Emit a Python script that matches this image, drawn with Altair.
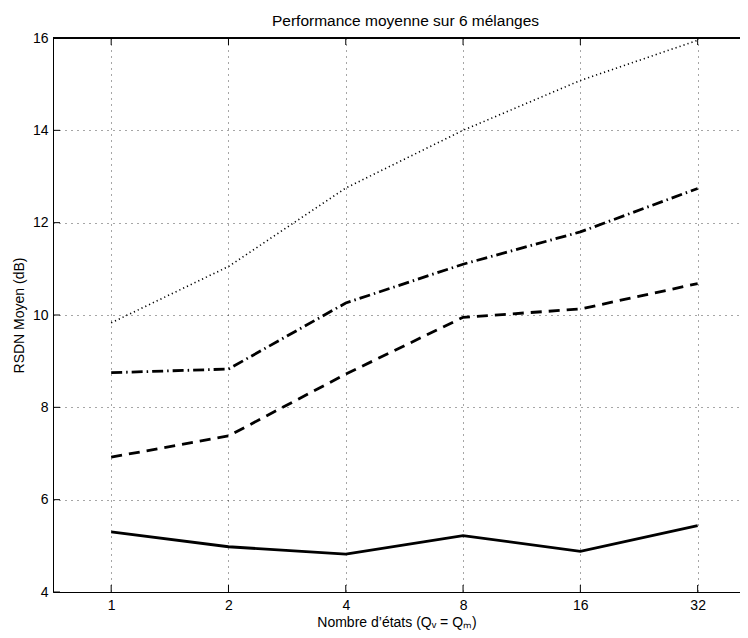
import altair as alt
import pandas as pd

# ---- data ----
states = [1, 2, 4, 8, 16, 32]
y_ticks = [4, 6, 8, 10, 12, 14, 16]
dotted_vals = [9.83, 11.05, 12.75, 14.0, 15.08, 15.95]
dashdot_vals = [8.75, 8.83, 10.26, 11.1, 11.8, 12.74]
dashed_vals = [6.92, 7.38, 8.72, 9.95, 10.13, 10.68]
solid_vals = [5.3, 4.98, 4.82, 5.22, 4.88, 5.44]

W, H = 687, 554
XDOM = [2 ** -0.496, 41.1]
YDOM = [4, 16]
FONT = "Liberation Sans"

xs = alt.Scale(type="log", base=2, domain=XDOM, nice=False)
ys = alt.Scale(domain=YDOM, nice=False, zero=False)

# long table for the four curves
style_names = ["dotted", "dashdot", "dashed", "solid"]
all_vals = [dotted_vals, dashdot_vals, dashed_vals, solid_vals]
rows = []
for name, vals in zip(style_names, all_vals):
    for n, v in zip(states, vals):
        rows.append({"n": n, "v": v, "s": name})
df_lines = pd.DataFrame(rows)

x_axis = alt.Axis(
    values=states, format="d", title="Nombre d\u2019\u00e9tats (Q\u1d65 = Q\u2098)",
    grid=True, gridDash=[1, 5], gridColor="#000", gridOpacity=0.7, gridWidth=1,
    ticks=False, tickSize=0, labelPadding=6,
    titleBaseline="alphabetic", titleY=34,
)
y_axis = alt.Axis(
    values=y_ticks, format="d", title="RSDN Moyen (dB)",
    grid=True, gridDash=[1, 5], gridColor="#000", gridOpacity=0.7, gridWidth=1,
    ticks=False, tickSize=0, labelPadding=5, titlePadding=6,
)

X = alt.X("n:Q", scale=xs, axis=x_axis)
Y = alt.Y("v:Q", scale=ys, axis=y_axis)

# invisible points carrying the axes
axes_layer = alt.Chart(df_lines).mark_point(opacity=0).encode(x=X, y=Y)

df_states = pd.DataFrame({"n": states})
df_y = pd.DataFrame({"v": y_ticks})

bottom_ticks = alt.Chart(df_states).mark_rule(color="black", strokeWidth=1).encode(
    x=alt.X("n:Q"), y=alt.value(H), y2=alt.value(H - 7),
)
top_ticks = alt.Chart(df_states).mark_rule(color="black", strokeWidth=1).encode(
    x=alt.X("n:Q"), y=alt.value(0), y2=alt.value(7),
)
left_ticks = alt.Chart(df_y).mark_rule(color="black", strokeWidth=1).encode(
    y=alt.Y("v:Q"), x=alt.value(0), x2=alt.value(7),
)
top_border = alt.Chart(df_states).mark_rule(color="black", strokeWidth=1).encode(
    x=alt.value(0), x2=alt.value(W), y=alt.value(0),
)


def series(name, dash, width, color="black"):
    kw = dict(color=color, strokeWidth=width, clip=True)
    if dash:
        kw["strokeDash"] = dash
    return alt.Chart(df_lines).transform_filter(
        alt.datum.s == name
    ).mark_line(**kw).encode(x=alt.X("n:Q"), y=alt.Y("v:Q"))


lines = [
    series("dotted", [1.2, 3.0], 1.6, "#000"),
    series("dashdot", [11, 4, 1.5, 4], 2.8),
    series("dashed", [11, 7], 2.8),
    series("solid", None, 2.8),
]

chart = alt.layer(axes_layer, bottom_ticks, top_ticks, left_ticks, top_border, *lines).properties(
    width=W, height=H,
    title=alt.TitleParams(
        "Performance moyenne sur 6 m\u00e9langes", fontSize=15.5, fontWeight="normal",
        font=FONT, color="black", offset=2, dx=9,
    ),
    autosize=alt.AutoSizeParams(type="none"),
    padding={"left": 45, "top": 30, "right": 0, "bottom": 38},
).configure_view(stroke=None).configure_axis(
    labelFont=FONT, titleFont=FONT, labelFontSize=14, titleFontSize=14,
    labelColor="black", titleColor="black", titleFontWeight="normal",
    domainColor="black", domainWidth=1,
)

chart.save("out.html", embed_options={"renderer": "svg", "actions": False})
